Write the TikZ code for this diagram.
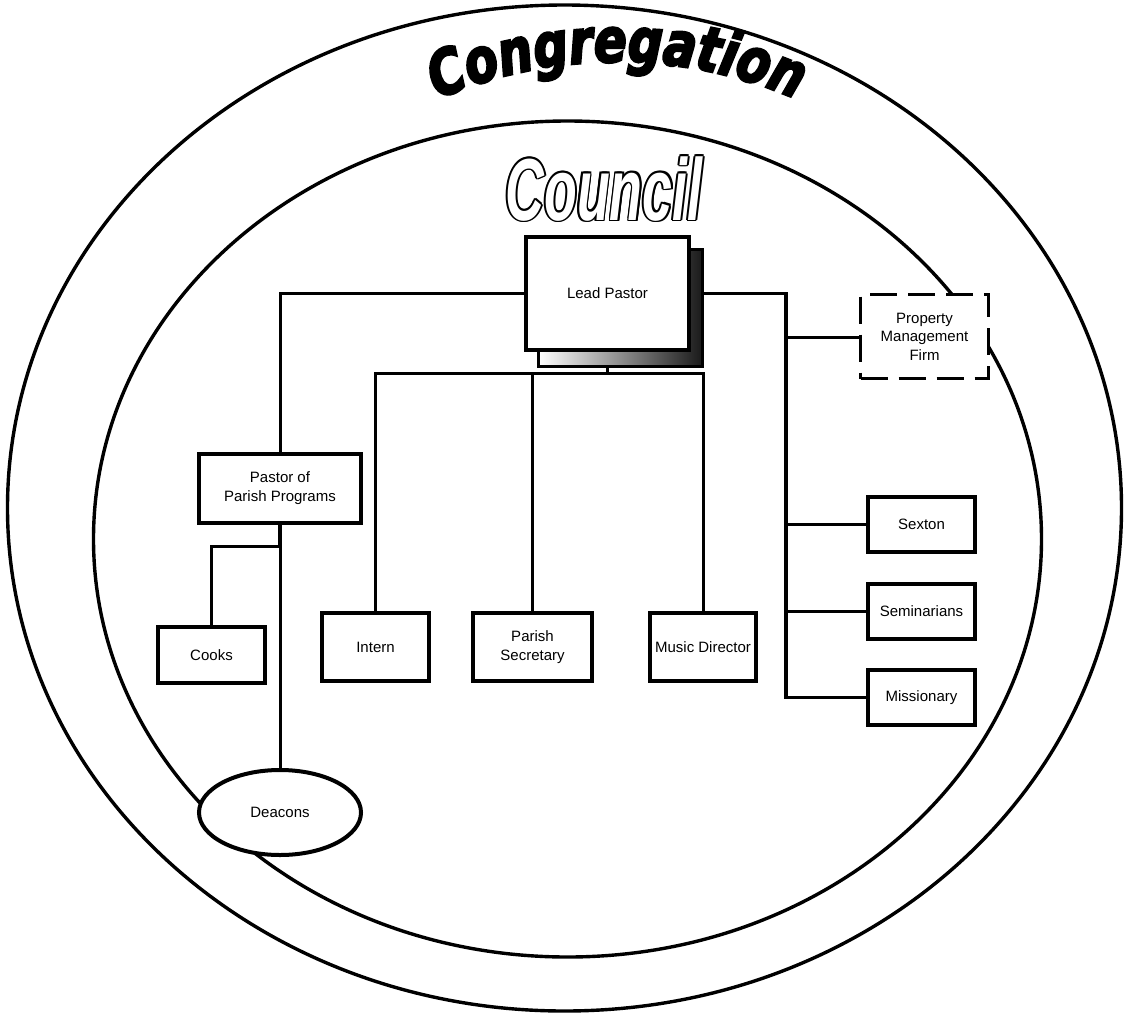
\documentclass[tikz,border=0pt]{standalone}
\usepackage{fontspec}
\usepackage{graphicx}
\setmainfont{Liberation Sans}
\newfontfamily\congfont[FakeStretch=0.78,FakeBold=3.5]{DejaVu Sans}
\newfontfamily\councilfont{Liberation Sans}
\usetikzlibrary{decorations.text,shapes.geometric}
\tikzset{
  lbl/.style={font=\fontsize{15}{19}\selectfont, align=center, inner sep=0pt},
  orgbox/.style={lbl, draw, line width=4pt, fill=white, rectangle},
  dashbox/.style={lbl, draw, line width=3pt, fill=white, rectangle, dash pattern=on 27pt off 11pt, font=\fontsize{15}{18.5}\selectfont},
  conn/.style={line width=3pt},
  thickconn/.style={line width=3.6pt},
  ring/.style={line width=3.4pt},
  councilword/.style={anchor=base, inner sep=0pt}
}
\newcommand{\councilword}{\scalebox{0.61}[1]{\councilfont\bfseries\itshape\fontsize{88}{90}\selectfont Council}}
\begin{document}
\begin{tikzpicture}[x=1pt,y=-1pt]
\useasboundingbox (0,0) rectangle (1127,1015);
% rings
\draw[ring] (564.5,508) ellipse [x radius=557, y radius=503];
\draw[ring] (567.5,539) ellipse [x radius=474, y radius=418];

% Congregation along arc
\begin{scope}[y=1pt]
\path[decorate, decoration={text along path, text align=center,
  text={|\congfont\bfseries\itshape\fontsize{62}{64}\selectfont|Congregation}}]
  (392,-122.3) arc[start angle=120, end angle=60, radius=450];
\end{scope}

% Council (outlined)
\foreach \dx/\dy in {-1.8/0,1.8/0,0/-1.8,0/1.8,-1.3/-1.3,1.3/1.3,-1.3/1.3,1.3/-1.3}
  \node[councilword, text=black] at (604+\dx,220+\dy) {\councilword};
\node[councilword, text=white] (council) at (604,220) {\councilword};

% coordinates
\coordinate (bus) at (607.5,373);
\coordinate (rbus) at (786,293.5);
\coordinate (pj) at (280,546);

% nodes (placed first so connectors can refer to them)
\node[orgbox, minimum width=163pt, minimum height=113pt] (lp) at (607.5,293.5) {};
\node[orgbox, minimum width=162pt, minimum height=69pt] (ppp) at (280,488.5) {};
\node[orgbox, minimum width=107pt, minimum height=56pt] (cooks) at (211.5,655) {};
\node[orgbox, minimum width=107pt, minimum height=68pt] (intern) at (375.5,647) {};
\node[orgbox, minimum width=119pt, minimum height=68pt] (sec) at (532.5,647) {};
\node[orgbox, minimum width=106pt, minimum height=68pt] (music) at (703,647) {};
\node[orgbox, minimum width=107pt, minimum height=55pt] (sexton) at (921.5,524.5) {};
\node[orgbox, minimum width=107pt, minimum height=55pt] (semin) at (921.5,611.5) {};
\node[orgbox, minimum width=107pt, minimum height=55pt] (miss) at (921.5,697.5) {};

% connectors
\draw[conn] (lp.west) -| (ppp.north);
\draw[conn] (lp.south) -- (bus);
\draw[conn] (intern.north) |- (bus) -| (music.north);
\draw[conn] (sec.north) -- (sec.north |- bus);
\draw[thickconn] (lp.east) -- (rbus) -- (rbus |- miss.west) -- (miss.west);
\draw[conn] (rbus |- 0,337) -- (859,337);
\draw[conn] (rbus |- sexton.west) -- (sexton.west);
\draw[conn] (rbus |- semin.west) -- (semin.west);
\draw[thickconn] (ppp.south) -- (pj);
\draw[conn] (pj) -| (cooks.north);
\draw[conn] (pj) -- (280,768);

% shadow of Lead Pastor
\node[draw, line width=3pt, rectangle, inner sep=0pt, minimum width=164pt, minimum height=117pt,
  left color=white, right color=black!90] (lpshadow) at (620.5,308) {};

% boxes with labels
\node[orgbox, minimum width=163pt, minimum height=113pt] (lp2) at (lp) {Lead Pastor};
\node[orgbox, minimum width=162pt, minimum height=69pt] at (ppp) {Pastor of\\Parish Programs};
\node[orgbox, minimum width=107pt, minimum height=56pt] at (cooks) {Cooks};
\node[orgbox, minimum width=107pt, minimum height=68pt] at (intern) {Intern};
\node[orgbox, minimum width=119pt, minimum height=68pt] at (sec) {Parish\\Secretary};
\node[orgbox, minimum width=106pt, minimum height=68pt] at (music) {Music Director};
\node[orgbox, minimum width=107pt, minimum height=55pt] at (sexton) {Sexton};
\node[orgbox, minimum width=107pt, minimum height=55pt] at (semin) {Seminarians};
\node[orgbox, minimum width=107pt, minimum height=55pt] at (miss) {Missionary};
\node[dashbox, minimum width=128pt, minimum height=84pt] (pmf) at (924.5,336.5) {Property\\Management\\Firm};
\node[lbl, draw, line width=4pt, fill=white, ellipse, minimum width=162pt, minimum height=85pt] (deacons) at (280,812.5) {Deacons};
\end{tikzpicture}
\end{document}
